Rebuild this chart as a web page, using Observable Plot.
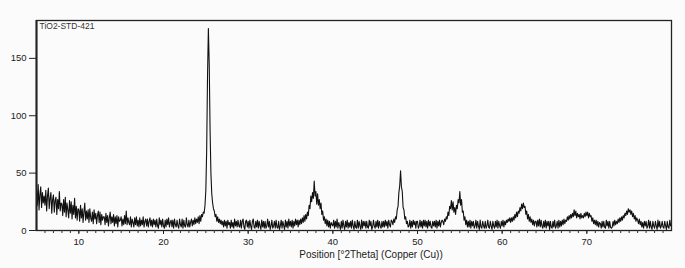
<!DOCTYPE html>
<html>
<head>
<meta charset="utf-8">
<script src="https://cdn.jsdelivr.net/npm/d3@7"></script>
<script src="https://cdn.jsdelivr.net/npm/@observablehq/plot@0.6"></script>
<style>
  html, body { margin: 0; padding: 0; background: #fbfbfb; }
  #chart svg { display: block; background: transparent; }
</style>
</head>
<body>
<div id="chart"></div>
<script>
// Scan: 2θ from 5° to 80° in 0.1° steps (one row per degree)
const startAngle = 5;
const stepAngle = 0.1;
const intensity = [
  36,22,40,18,31,38,20,33,24,30, // 5
  22,35,17,30,37,19,28,33,15,27, // 6
  31,16,26,29,14,27,19,34,17,24, // 7
  23,13,27,16,29,12,24,18,11,26, // 8
  15,25,10,22,14,28,11,21,9,19,  // 9
  18,8,22,11,19,7,16,24,9,17,    // 10
  10,18,7,19,11,8,16,6,18,10,    // 11
  15,6,13,17,7,16,5,14,9,12,     // 12
  12,5,15,7,13,4,11,16,6,12,     // 13
  7,14,4,12,6,13,3,12,8,9,       // 14
  12,4,10,5,13,6,17,5,11,7,      // 15
  5,12,3,10,7,3,11,5,12,4,       // 16
  9,3,11,4,9,5,12,3,8,10,        // 17
  4,10,3,8,11,4,9,3,10,5,        // 18
  9,3,10,4,2,11,5,9,3,10,        // 19
  4,2,9,3,10,5,11,3,7,9,         // 20
  3,9,2,10,5,3,9,4,2,10,         // 21
  5,3,10,2,9,4,3,11,5,3,         // 22
  9,3,7,10,4,9,5,11,6,10,        // 23
  7,12,6,13,8,14,12,16,15,22,    // 24
  35,70,135,176,145,88,50,32,24,19, // 25
  17,12,14,8,12,7,10,6,9,5,      // 26
  8,3,9,4,8,2,9,5,7,2,           // 27
  9,3,7,2,10,4,8,3,9,4,          // 28
  3,9,2,8,10,3,1,8,9,3,          // 29
  8,2,9,4,1,8,10,3,2,8,          // 30
  3,9,2,8,4,1,9,3,8,2,           // 31
  8,2,4,10,3,8,1,4,9,2,          // 32
  4,8,2,9,3,2,8,1,4,9,           // 33
  2,8,4,1,9,3,8,2,10,4,          // 34
  8,3,9,2,8,4,10,5,9,3,          // 35
  9,5,10,6,11,7,13,8,14,10,      // 36
  16,13,22,19,30,25,33,28,43,30, // 37
  34,23,32,22,27,19,24,14,17,9,  // 38
  12,6,10,4,9,3,8,2,7,5,         // 39
  4,9,2,8,3,10,2,7,4,1,          // 40
  8,2,9,4,1,8,3,9,2,7,           // 41
  3,8,2,9,4,1,8,3,2,9,           // 42
  2,8,4,1,9,2,8,4,8,2,           // 43
  8,3,2,9,4,8,1,3,9,4,           // 44
  2,8,3,9,2,8,4,2,8,3,           // 45
  8,3,9,4,8,2,9,5,3,9,           // 46
  8,5,10,7,12,10,18,21,33,39,    // 47
  52,38,34,20,18,10,12,6,8,3,    // 48
  4,9,2,8,3,9,5,8,2,8,           // 49
  8,2,4,9,3,8,2,9,4,9,           // 50
  3,8,2,9,4,8,3,2,8,4,           // 51
  8,3,9,2,8,4,9,3,7,9,           // 52
  8,5,10,8,12,10,16,13,21,19,    // 53
  26,18,25,16,20,14,22,19,27,24, // 54
  34,22,27,16,17,9,12,5,9,3,     // 55
  8,3,9,2,8,4,8,2,4,9,           // 56
  2,8,4,1,9,3,2,8,4,2,           // 57
  8,2,4,9,3,2,8,4,1,8,           // 58
  4,2,8,3,9,2,8,4,2,8,           // 59
  4,9,3,8,5,9,7,10,8,11,         // 60
  7,11,8,12,9,14,11,16,12,17,    // 61
  15,20,17,23,19,24,20,21,14,17, // 62
  10,14,8,12,7,10,5,9,4,8,       // 63
  8,3,9,4,10,3,9,4,2,8,          // 64
  3,9,2,8,4,8,1,8,3,2,           // 65
  8,3,9,2,4,8,2,9,3,8,           // 66
  4,9,5,10,6,9,8,12,9,13,        // 67
  10,14,11,15,12,18,13,17,11,15, // 68
  12,14,10,15,11,13,11,15,12,16, // 69
  13,16,11,15,12,13,8,11,6,9,    // 70
  5,9,4,8,3,7,6,2,8,3,           // 71
  8,3,2,9,4,8,2,8,3,2,           // 72
  3,8,4,9,5,8,6,10,7,11,         // 73
  8,12,9,13,11,15,13,17,14,19,   // 74
  16,18,14,17,12,15,10,13,8,11,  // 75
  9,6,10,5,8,3,7,2,8,4,          // 76
  8,2,4,9,2,8,3,1,8,4,           // 77
  2,8,4,1,9,3,8,2,4,8,           // 78
  3,2,8,4,1,8,3,2,9,4,           // 79
  5                              // 80
];
const yTicks = [0, 50, 100, 150];
const xMajorTicks = [10, 20, 30, 40, 50, 60, 70];
const xMinorTicks = d3.range(6, 80);
const sampleName = "TiO2-STD-421";
const xLabel = "Position [°2Theta] (Copper (Cu))";

const data = intensity.map((v, i) => ({ angle: startAngle + i * stepAngle, counts: v }));

const chart = Plot.plot({
  width: 685,
  height: 268,
  marginLeft: 36,
  marginRight: 14,
  marginTop: 20,
  marginBottom: 38,
  style: { fontFamily: "Liberation Sans, Arial, sans-serif", fontSize: "9.5px", color: "#222", background: "transparent" },
  x: { domain: [5, 80] },
  y: { domain: [0, 183] },
  marks: [
    Plot.line(data, { x: "angle", y: "counts", stroke: "#111", strokeWidth: 1.1 }),
    Plot.frame({ stroke: "#222", strokeWidth: 1.3 }),
    Plot.ruleX([5], { stroke: "#222", strokeWidth: 2 }),
    Plot.axisY(yTicks, { tickSize: 7, tickPadding: 3, label: null, fontSize: 9.5, stroke: "#222" }),
    Plot.axisX(xMinorTicks, { tickSize: 3, text: null, label: null, stroke: "#333" }),
    Plot.axisX(xMajorTicks, {
      tickSize: 4, tickPadding: 4, fontSize: 9.5, stroke: "#222",
      label: null
    }),
    Plot.text([xLabel], { frameAnchor: "bottom", dx: 17, dy: 27, fontSize: 10, fill: "#222" }),
    Plot.text([sampleName], { frameAnchor: "top-left", dx: 3, dy: 2, fontSize: 8.5, fill: "#333" })
  ]
});
document.getElementById("chart").appendChild(chart);
</script>
</body>
</html>
